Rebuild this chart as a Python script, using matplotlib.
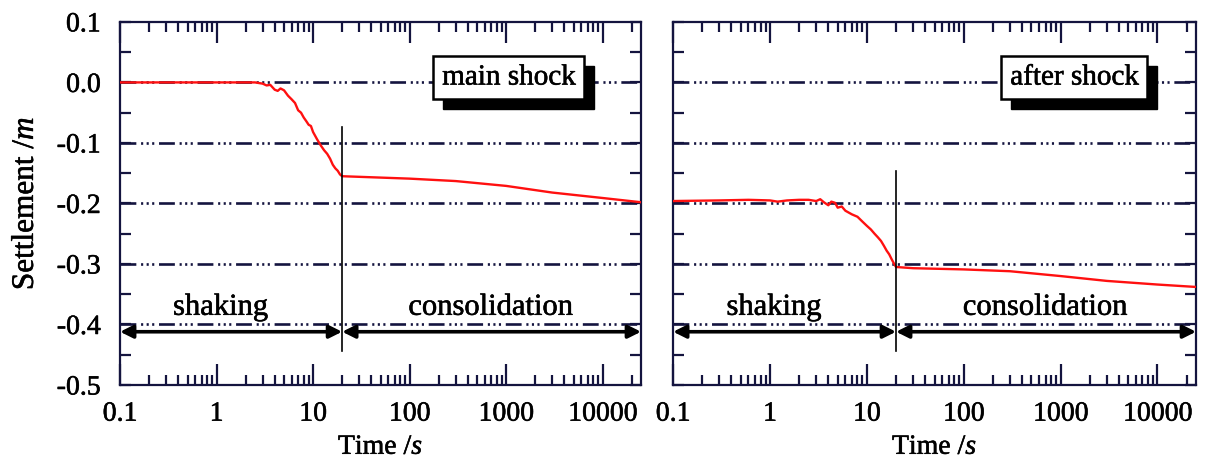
import matplotlib
matplotlib.use("Agg")
import matplotlib.pyplot as plt
import matplotlib.patheffects as pe
from matplotlib.patches import Rectangle
from matplotlib.ticker import FixedLocator, LogLocator, NullFormatter

plt.rcParams['font.family'] = ['Liberation Serif', 'DejaVu Serif']
plt.rcParams['mathtext.fontset'] = 'custom'
plt.rcParams['mathtext.rm'] = 'Liberation Serif'
plt.rcParams['mathtext.it'] = 'Liberation Serif:italic'

# Settlement records (time in s, settlement in m)
main_time = [0.1, 1.0, 2.5, 3.0, 3.3, 3.6, 4.0, 4.3, 4.6, 5.0, 5.5, 6.0, 6.5, 7.0,
             7.5, 8.0, 8.5, 9.0, 9.5, 10.0, 11.0, 12.0, 13.0, 14.0, 15.0, 16.0,
             17.0, 18.0, 19.0, 20.0, 30.0, 100.0, 300.0, 1000.0, 3000.0, 10000.0, 25000.0]
main_settle = [0.0, 0.0, 0.0, -0.002, -0.005, -0.004, -0.012, -0.014, -0.010, -0.013,
               -0.022, -0.028, -0.034, -0.046, -0.050, -0.058, -0.064, -0.070, -0.072,
               -0.082, -0.094, -0.104, -0.112, -0.118, -0.126, -0.136, -0.142, -0.146,
               -0.152, -0.155, -0.156, -0.159, -0.163, -0.171, -0.182, -0.191, -0.198]

after_time = [0.1, 0.3, 0.6, 1.0, 1.2, 1.5, 2.0, 2.5, 3.0, 3.3, 3.6, 4.0, 4.3, 4.7,
              5.0, 5.5, 6.0, 7.0, 8.0, 9.0, 10.0, 11.0, 12.0, 13.0, 14.0, 15.0, 16.0,
              17.0, 18.0, 19.0, 20.0, 30.0, 100.0, 300.0, 1000.0, 3000.0, 10000.0, 25000.0]
after_settle = [-0.196, -0.195, -0.194, -0.195, -0.197, -0.195, -0.194, -0.194, -0.196,
                -0.193, -0.198, -0.203, -0.197, -0.199, -0.207, -0.205, -0.212, -0.218,
                -0.222, -0.230, -0.237, -0.243, -0.250, -0.256, -0.262, -0.270, -0.278,
                -0.284, -0.292, -0.299, -0.305, -0.307, -0.309, -0.312, -0.320, -0.328,
                -0.334, -0.338]

panel_titles = ["main shock", "after shock"]
phase_labels = ["shaking", "consolidation"]
x_ticks = [0.1, 1, 10, 100, 1000, 10000]
x_tick_labels = ["0.1", "1", "10", "100", "1000", "10000"]
y_ticks = [0.1, 0.0, -0.1, -0.2, -0.3, -0.4, -0.5]
y_tick_labels = ["0.1", "0.0", "-0.1", "-0.2", "-0.3", "-0.4", "-0.5"]
shake_end = [20.0, 20.0]
marker_top = [-0.073, -0.146]
x_min, x_max = 0.1, 25000
y_min, y_max = -0.5, 0.1

navy = '#14143f'
fs = 20
heavy = [pe.withStroke(linewidth=0.4, foreground='black')]

fig = plt.figure(figsize=(12.15, 4.67), dpi=100)
ax1 = fig.add_axes([0.0988, 0.1756, 0.4288, 0.7775])
ax2 = fig.add_axes([0.5540, 0.1756, 0.4304, 0.7775])

series = [(main_time, main_settle), (after_time, after_settle)]
box_x = [1070, 1390]
title_texts = []

for i, ax in enumerate([ax1, ax2]):
    t, s = series[i]
    ax.set_xscale('log')
    ax.set_xlim(x_min, x_max)
    ax.set_ylim(y_min, y_max)

    ax.yaxis.set_major_locator(FixedLocator(y_ticks))
    ax.yaxis.set_minor_locator(FixedLocator([0.05, -0.05, -0.15, -0.25, -0.35, -0.45]))
    ax.xaxis.set_major_locator(FixedLocator(x_ticks))
    ax.xaxis.set_minor_locator(LogLocator(base=10, subs=range(2, 10), numticks=20))
    ax.xaxis.set_minor_formatter(NullFormatter())
    ax.set_xticklabels(x_tick_labels)
    if i == 0:
        ax.set_yticklabels(y_tick_labels)
        ax.set_ylabel("Settlement /$m$", fontsize=22.5, labelpad=12,
                      path_effects=heavy)
    else:
        ax.set_yticklabels([])
    ax.set_xlabel("Time /$s$", fontsize=fs, labelpad=6, path_effects=heavy)

    ax.tick_params(axis='both', which='both', direction='in', top=True, right=True,
                   color=navy, width=1.6, labelsize=fs)
    ax.tick_params(axis='x', which='major', length=15, pad=12)
    ax.tick_params(axis='x', which='minor', length=7)
    ax.tick_params(axis='y', which='both', length=8, pad=14)
    for lab in ax.get_xticklabels() + ax.get_yticklabels():
        lab.set_path_effects(heavy)
    for sp in ax.spines.values():
        sp.set_color(navy)
        sp.set_linewidth(1.6)

    for gy in [0.0, -0.1, -0.2, -0.3, -0.4]:
        ax.axhline(gy, color=navy, lw=1.9, zorder=1,
                   linestyle=(0, (6, 1.8, 0.8, 1.3, 0.8, 1.3, 0.8, 1.8)))

    ax.plot(t, s, color='#ff1010', lw=1.7, zorder=3)

    # end of shaking
    ax.plot([shake_end[i], shake_end[i]], [marker_top[i], -0.443], color='black',
            lw=1.2, zorder=4)

    # phase arrows
    arrow_y = -0.412
    for xa, xb in [(x_min, shake_end[i]), (shake_end[i], x_max)]:
        ax.annotate('', xy=(xb, arrow_y), xytext=(xa, arrow_y),
                    arrowprops=dict(arrowstyle='<|-|>', color='black', lw=2.6,
                                    mutation_scale=19, shrinkA=0, shrinkB=0),
                    annotation_clip=False, zorder=5)
    ax.text(1.1, -0.384, phase_labels[0], fontsize=22, ha='center', va='baseline',
            zorder=5, path_effects=heavy)
    ax.text(690, -0.384, phase_labels[1], fontsize=22, ha='center', va='baseline',
            zorder=5, path_effects=heavy)

    # title box
    tt = ax.text(box_x[i], 0.008, panel_titles[i], fontsize=21, ha='center',
                 va='center', color='black', zorder=7, path_effects=heavy,
                 bbox=dict(boxstyle='square,pad=0.3', fc='white', ec='black', lw=1.8))
    title_texts.append((ax, tt))

# drop shadow behind each title box, offset down-right
fig.canvas.draw()
for ax, tt in title_texts:
    bb = tt.get_bbox_patch().get_window_extent()
    inv = ax.transAxes.inverted()
    (x0, y0) = inv.transform((bb.x0 + 10, bb.y0 - 10))
    (x1, y1) = inv.transform((bb.x1 + 10, bb.y1 - 10))
    ax.add_patch(Rectangle((x0, y0), x1 - x0, y1 - y0, transform=ax.transAxes,
                           fc='black', ec='black', zorder=6))

fig.savefig('out.png', dpi=100)
